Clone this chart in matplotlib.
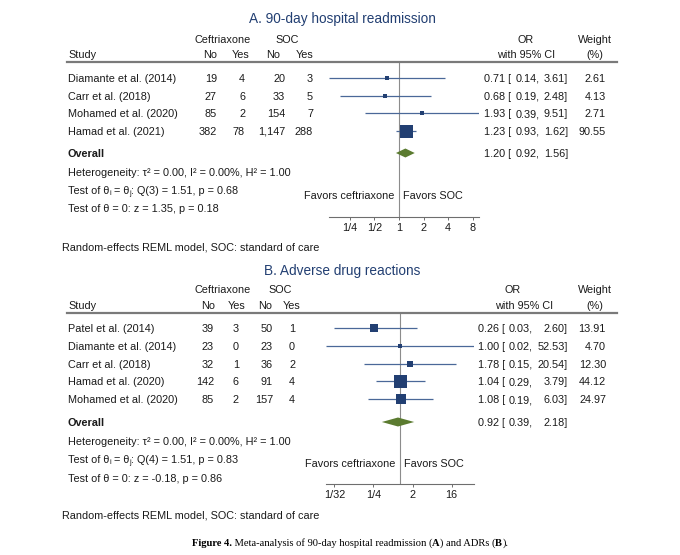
import matplotlib.pyplot as plt
from matplotlib.ticker import NullLocator
import numpy as np

plt.rcParams['font.family'] = ['Liberation Sans', 'DejaVu Sans']

# ---- panel A: 90-day hospital readmission
studies_a = ["Diamante et al. (2014)", "Carr et al. (2018)", "Mohamed et al. (2020)", "Hamad et al. (2021)"]
cef_no_a = [19, 27, 85, 382]
cef_yes_a = [4, 6, 2, 78]
soc_no_a = [20, 33, 154, 1147]
soc_yes_a = [3, 5, 7, 288]
or_a = [0.71, 0.68, 1.93, 1.23]
lo_a = [0.14, 0.19, 0.39, 0.93]
hi_a = [3.61, 2.48, 9.51, 1.62]
wt_a = [2.61, 4.13, 2.71, 90.55]
overall_a = [1.20, 0.92, 1.56]
het_a = "Heterogeneity: τ² = 0.00, I² = 0.00%, H² = 1.00"
q_a = ": Q(3) = 1.51, p = 0.68"
z_a = "Test of θ = 0: z = 1.35, p = 0.18"
ticks_a = [1/4, 1/2, 1, 2, 4, 8]
ticklabels_a = ["1/4", "1/2", "1", "2", "4", "8"]

# ---- panel B: adverse drug reactions
studies_b = ["Patel et al. (2014)", "Diamante et al. (2014)", "Carr et al. (2018)",
             "Hamad et al. (2020)", "Mohamed et al. (2020)"]
cef_no_b = [39, 23, 32, 142, 85]
cef_yes_b = [3, 0, 1, 6, 2]
soc_no_b = [50, 23, 36, 91, 157]
soc_yes_b = [1, 0, 2, 4, 4]
or_b = [0.26, 1.00, 1.78, 1.04, 1.08]
lo_b = [0.03, 0.02, 0.15, 0.29, 0.19]
hi_b = [2.60, 52.53, 20.54, 3.79, 6.03]
wt_b = [13.91, 4.70, 12.30, 44.12, 24.97]
overall_b = [0.92, 0.39, 2.18]
het_b = "Heterogeneity: τ² = 0.00, I² = 0.00%, H² = 1.00"
q_b = ": Q(4) = 1.51, p = 0.83"
z_b = "Test of θ = 0: z = -0.18, p = 0.86"
ticks_b = [1/32, 1/4, 2, 16]
ticklabels_b = ["1/32", "1/4", "2", "16"]

W, H = 680, 555
FS = 7.8
NAVY = '#223f72'
LINE = '#4a6898'
GREEN = '#5b7b30'
GRAY = '#8c8c8c'

fig = plt.figure(figsize=(6.8, 5.55), dpi=100)
rend = fig.canvas.get_renderer()


def put(x, y, s, **kw):
    # y is the visual centre of the capitals, in pixels from the top
    kw.setdefault('fontsize', FS)
    kw.setdefault('color', '#1a1a1a')
    off = 0.36 * kw['fontsize'] * 100 / 72
    return fig.text(x / W, 1 - (y + off) / H, s, va='baseline', **kw)


def runs(x, y, parts, **kw):
    # parts: (text, dy_px, size, weight); laid out left to right
    out = []
    for s, dy, size, weight in parts:
        t = put(x, y + dy, s, fontsize=size, fontweight=weight, **kw)
        x += t.get_window_extent(rend).width
        out.append(t)
    return out, x


def panel(title, studies, counts, ors, los, his, wts, overall, het, q, z, ticks, ticklabels, L):
    put(342, L['title'], title, fontsize=9.8, color=NAVY, ha='center')
    # headers
    put(L['cef'], L['h1'], "Ceftriaxone", ha='center')
    put(L['soc'], L['h1'], "SOC", ha='center')
    put(L['orh'][0], L['h1'], "OR", ha='center')
    put(595, L['h1'], "Weight", ha='center')
    put(68, L['h2'], "Study")
    for xc, lab in zip(L['hcols'], ["No", "Yes", "No", "Yes"]):
        put(xc, L['h2'], lab, ha='center')
    put(L['orh'][1], L['h2'], "with 95% CI", ha='center')
    put(595, L['h2'], "(%)", ha='center')
    fig.add_artist(plt.Line2D([67 / W, 617 / W], [1 - L['rule'] / H] * 2, color='#7a7a7a', lw=1.6))

    rows = L['row0'] + L['dy'] * np.arange(len(studies))
    for i, y in enumerate(rows):
        put(68, y, studies[i])
        for xr, col in zip(L['cols'], counts):
            put(xr, y, f"{col[i]:,}", ha='right')
        put(L['orx'][0], y, f"{ors[i]:.2f} [", ha='right')
        put(L['orx'][1], y, f"{los[i]:.2f},", ha='right')
        put(L['orx'][2], y, f"{his[i]:.2f}]", ha='right')
        put(606, y, f"{wts[i]:.2f}", ha='right')

    put(68, L['overall'], "Overall", fontweight='bold')
    put(L['orx'][0], L['overall'], f"{overall[0]:.2f} [", ha='right')
    put(L['orx'][1], L['overall'], f"{overall[1]:.2f},", ha='right')
    put(L['orx'][2], L['overall'], f"{overall[2]:.2f}]", ha='right')
    ys = L['stat0'] + 18.3 * np.arange(3)
    put(68, ys[0], het)
    runs(68, ys[1], [("Test of θ", 0, FS, 'normal'), ("i", 2.5, 5.2, 'normal'),
                     (" = θ", 0, FS, 'normal'), ("j", 2.5, 5.2, 'normal'), (q, 0, FS, 'normal')])
    put(68, ys[2], z)
    put(L['fav'] - 5, L['favy'], "Favors ceftriaxone", ha='right')
    put(L['fav'] + 4, L['favy'], "Favors SOC", ha='left')
    put(62, L['foot'], "Random-effects REML model, SOC: standard of care")

    # forest axes, spanning min CI to max CI
    x0, x1 = L['ax']
    top, bot = L['rule'] + 1, L['axis']
    ax = fig.add_axes([x0 / W, 1 - bot / H, (x1 - x0) / W, (bot - top) / H])
    ax.set_xscale('log', base=2)
    ax.set_xlim(min(los), max(his))
    ax.set_ylim(bot, top)
    ax.patch.set_alpha(0)
    for sp in ['top', 'right', 'left']:
        ax.spines[sp].set_visible(False)
    ax.spines['bottom'].set_color('#6e6e6e')
    ax.spines['bottom'].set_linewidth(0.8)
    ax.set_yticks([])
    ax.set_xticks(ticks)
    ax.set_xticklabels(ticklabels)
    ax.xaxis.set_minor_locator(NullLocator())
    ax.tick_params(axis='x', length=2.5, width=0.7, color='#6e6e6e', labelsize=FS, pad=2,
                   labelcolor='#1a1a1a')
    ax.axvline(1, color=GRAY, lw=0.8, zorder=1)

    wmax = max(wts)
    for i, y in enumerate(rows):
        ax.plot([los[i], his[i]], [y, y], color=LINE, lw=0.9, solid_capstyle='butt', zorder=2)
        side = max(13 * np.sqrt(wts[i] / wmax), 3.2) * 0.72
        ax.scatter([ors[i]], [y], marker='s', s=side ** 2, color=NAVY, linewidths=0, zorder=3)
    yo = L['overall']
    ax.fill([overall[1], overall[0], overall[2], overall[0]], [yo, yo - 4.5, yo, yo + 4.5],
            color=GREEN, lw=0, zorder=3)


layout_a = dict(title=18, h1=39, h2=54, rule=62, row0=78, dy=17.7, overall=153, stat0=172,
                favy=195, axis=217, foot=247, cef=223, soc=287, hcols=[210, 240.5, 273, 304.5],
                cols=[217, 245, 285, 313], orx=[511, 540, 568], orh=[526, 526],
                ax=[329, 479], fav=399)
layout_b = dict(title=270, h1=289, h2=305, rule=313, row0=328, dy=17.8, overall=422, stat0=441,
                favy=463, axis=484, foot=515, cef=222.5, soc=280.5, hcols=[208.5, 237, 265, 292],
                cols=[214, 239, 273, 295], orx=[505, 533, 568], orh=[513, 524],
                ax=[326, 474], fav=400)

panel("A. 90-day hospital readmission", studies_a, [cef_no_a, cef_yes_a, soc_no_a, soc_yes_a],
      or_a, lo_a, hi_a, wt_a, overall_a, het_a, q_a, z_a, ticks_a, ticklabels_a, layout_a)
panel("B. Adverse drug reactions", studies_b, [cef_no_b, cef_yes_b, soc_no_b, soc_yes_b],
      or_b, lo_b, hi_b, wt_b, overall_b, het_b, q_b, z_b, ticks_b, ticklabels_b, layout_b)

# caption with bold pieces, laid out left to right then centred
pieces = [("Figure 4.", 'bold'), (" Meta-analysis of 90-day hospital readmission (", 'normal'),
          ("A", 'bold'), (") and ADRs (", 'normal'), ("B", 'bold'), (").", 'normal')]
texts, xend = runs(0, 542, [(s, 0, 7.6, w) for s, w in pieces],
                   family='Liberation Serif', color='black')
shift = 350 - xend / 2
for t in texts:
    t.set_x(t.get_position()[0] + shift / W)

fig.savefig("out.png", dpi=100, facecolor='white')
